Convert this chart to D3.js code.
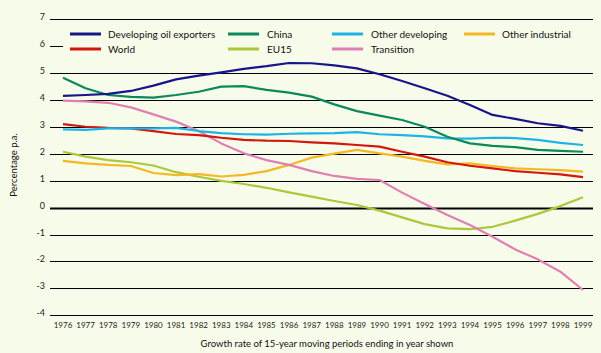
<!DOCTYPE html>
<html><head><meta charset="utf-8">
<script src="https://cdn.jsdelivr.net/npm/d3@7"></script>
<style>html,body{margin:0;padding:0;background:#f7fcea;}svg{display:block;}</style>
</head><body>
<svg id="c" width="601" height="353"></svg>
<script>
const years = d3.range(1976, 2000);
const yTicks = [-4,-3,-2,-1,0,1,2,3,4,5,6,7];
const seriesNames = ["Developing oil exporters","China","Other developing","Other industrial","World","EU15","Transition"];
const seriesColors = ["#16168a","#0a8a5a","#1cb4e8","#f5b723","#d4160c","#a9c93a","#e07fb4"];
const devOil = [4.16,4.19,4.23,4.34,4.54,4.77,4.91,5.03,5.16,5.26,5.38,5.37,5.29,5.18,4.96,4.71,4.44,4.16,3.82,3.45,3.30,3.14,3.04,2.86];
const china = [4.83,4.44,4.19,4.12,4.09,4.19,4.31,4.50,4.52,4.38,4.28,4.13,3.84,3.59,3.42,3.26,3.01,2.64,2.39,2.30,2.25,2.15,2.11,2.08];
const otherDev = [2.91,2.89,2.95,2.95,2.95,2.97,2.85,2.77,2.73,2.72,2.75,2.76,2.77,2.81,2.73,2.70,2.65,2.58,2.57,2.60,2.59,2.52,2.41,2.33];
const otherInd = [1.74,1.65,1.59,1.55,1.29,1.21,1.25,1.16,1.22,1.36,1.59,1.86,2.01,2.15,2.02,1.90,1.74,1.61,1.65,1.55,1.46,1.43,1.40,1.34];
const world = [3.11,3.01,2.97,2.95,2.85,2.74,2.70,2.60,2.52,2.49,2.48,2.43,2.39,2.33,2.27,2.08,1.90,1.69,1.56,1.46,1.36,1.30,1.24,1.14];
const eu15 = [2.08,1.90,1.77,1.69,1.57,1.32,1.15,1.00,0.88,0.74,0.57,0.41,0.25,0.10,-0.11,-0.36,-0.61,-0.77,-0.80,-0.71,-0.48,-0.23,0.06,0.39];
const transition = [3.98,3.95,3.90,3.73,3.47,3.20,2.85,2.39,2.02,1.77,1.59,1.36,1.18,1.07,1.03,0.56,0.14,-0.27,-0.64,-1.08,-1.55,-1.92,-2.38,-3.06];
const seriesData = [devOil, china, otherDev, otherInd, world, eu15, transition];
const drawOrder = [5,3,6,4,2,1,0];

const svg = d3.select("#c");
const font = "Lato, 'Open Sans', sans-serif";
const x = d3.scalePoint().domain(years).range([63, 583]);
const y = d3.scaleLinear().domain([-4, 7]).range([315.3, 19.4]);
const gx0 = 50, gx1 = 593;

// grid
svg.append("g").selectAll("line").data(yTicks).join("line")
  .attr("x1", gx0).attr("x2", gx1)
  .attr("y1", d => Math.round(y(d)) + 0.5).attr("y2", d => Math.round(y(d)) + 0.5)
  .attr("stroke", "#000").attr("stroke-width", d => d === 0 ? 2.2 : 1);

// y tick labels
svg.append("g").selectAll("text").data(yTicks).join("text")
  .attr("x", 45).attr("y", d => Math.round(y(d)) + 0.5)
  .attr("text-anchor", "end").attr("font-family", font).attr("font-size", 9)
  .attr("fill", "#222").text(d => d);

// x tick labels
svg.append("g").selectAll("text").data(years).join("text")
  .attr("x", d => x(d)).attr("y", 328)
  .attr("text-anchor", "middle").attr("font-family", font).attr("font-size", 8)
  .attr("fill", "#222").text(d => d);

// axis titles
svg.append("text").attr("x", 327).attr("y", 347).attr("text-anchor", "middle")
  .attr("font-family", font).attr("font-size", 9.5).attr("fill", "#111")
  .text("Growth rate of 15-year moving periods ending in year shown");
svg.append("text").attr("transform", "translate(17,165) rotate(-90)").attr("text-anchor", "middle")
  .attr("font-family", font).attr("font-size", 9.5).attr("fill", "#111")
  .text("Percentage p.a.");

// lines
const line = d3.line().x((d, i) => x(years[i])).y(d => y(d));
svg.append("g").selectAll("path").data(drawOrder).join("path")
  .attr("d", k => line(seriesData[k]))
  .attr("fill", "none").attr("stroke", k => seriesColors[k]).attr("stroke-width", 2.2)
  .attr("stroke-linejoin", "round");

// legend
svg.append("rect").attr("x", 63).attr("y", 26).attr("width", 538).attr("height", 31).attr("fill", "#f7fcea");
const legCols = [[70,108],[228,267],[332,371],[464,502]];
const legPos = [[0,0],[1,0],[2,0],[3,0],[0,1],[1,1],[2,1]];
const leg = svg.append("g").selectAll("g").data(seriesNames).join("g")
  .attr("transform", (d, i) => `translate(0,${34 + legPos[i][1] * 15})`);
leg.append("line").attr("x1", (d, i) => legCols[legPos[i][0]][0]).attr("x2", (d, i) => legCols[legPos[i][0]][0] + 31)
  .attr("y1", 0).attr("y2", 0).attr("stroke", (d, i) => seriesColors[i]).attr("stroke-width", 3);
leg.append("text").attr("x", (d, i) => legCols[legPos[i][0]][1]).attr("y", 3.5)
  .attr("font-family", font).attr("font-size", 10).attr("fill", "#111").text(d => d);
</script>
</body></html>
